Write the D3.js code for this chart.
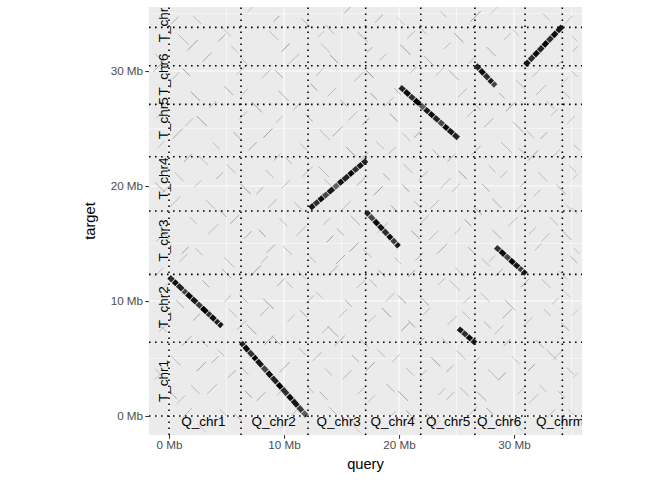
<!DOCTYPE html>
<html>
<head>
<meta charset="utf-8">
<script src="https://cdn.jsdelivr.net/npm/d3@7"></script>
<style>
  body { margin: 0; background: #fff; }
  text { font-family: "Liberation Sans", Arial, sans-serif; }
</style>
</head>
<body>
<div id="chart"></div>
<script>
// chromosome borders (Mb, cumulative) and label positions
const qBounds = [0, 6.26, 12.09, 17.1, 21.89, 26.6, 30.96, 34.2];
const tBounds = [0, 6.41, 12.32, 17.83, 22.55, 27.1, 30.46, 33.8];
const qChroms = ["Q_chr1", "Q_chr2", "Q_chr3", "Q_chr4", "Q_chr5", "Q_chr6", "Q_chrm"];
const tChroms = ["T_chr1", "T_chr2", "T_chr3", "T_chr4", "T_chr5", "T_chr6", "T_chrm"];
const qLabelPos = [2.99, 9.09, 14.76, 19.45, 24.26, 28.7, 34.0];
const tLabelPos = [3.04, 9.45, 15.26, 20.65, 25.9, 29.7, 34.5];
const tickVals = [0, 10, 20, 30];
const minorVals = [5, 15, 25, 35];

// strong alignments: [qStart, qEnd, tStart, tEnd, alpha]
const hits = [
  // Q_chr1 -> T_chr2
  [0.0, 0.35, 12.10, 11.77, 0.8], [0.4, 0.7, 11.73, 11.45, 0.95], [0.75, 1.2, 11.40, 10.98, 0.85],
  [1.25, 1.5, 10.93, 10.70, 0.7], [1.55, 1.95, 10.65, 10.28, 0.95], [2.0, 2.4, 10.23, 9.86, 0.9],
  [2.45, 2.8, 9.81, 9.48, 0.75], [2.85, 3.3, 9.44, 9.01, 1], [3.35, 3.6, 8.97, 8.73, 0.8],
  [3.65, 4.0, 8.69, 8.36, 0.95], [4.05, 4.3, 8.31, 8.08, 0.85], [4.35, 4.6, 8.03, 7.80, 0.9],
  // Q_chr2 -> T_chr1
  [6.26, 6.5, 6.40, 6.13, 0.85], [6.55, 6.9, 6.07, 5.68, 0.95], [6.95, 7.3, 5.63, 5.23, 0.8],
  [7.35, 7.6, 5.18, 4.90, 1], [7.65, 8.1, 4.84, 4.34, 0.9], [8.15, 8.5, 4.28, 3.89, 0.7],
  [8.55, 8.9, 3.83, 3.44, 0.95], [8.95, 9.4, 3.38, 2.88, 0.85], [9.45, 9.8, 2.82, 2.43, 1],
  [9.85, 10.3, 2.38, 1.87, 0.8], [10.35, 10.7, 1.81, 1.42, 0.95], [10.75, 11.2, 1.37, 0.86, 0.9],
  [11.25, 11.6, 0.81, 0.41, 0.75], [11.65, 11.97, 0.36, 0.0, 0.6],
  // Q_chr3 -> T_chr4
  [12.26, 12.6, 18.06, 18.35, 0.9], [12.65, 13.0, 18.39, 18.69, 0.8], [13.05, 13.4, 18.73, 19.03, 0.95],
  [13.45, 13.8, 19.07, 19.37, 0.7], [13.85, 14.3, 19.41, 19.80, 0.9], [14.35, 14.7, 19.84, 20.14, 0.6],
  [14.75, 15.1, 20.18, 20.48, 0.95], [15.15, 15.6, 20.52, 20.91, 0.85], [15.65, 16.0, 20.95, 21.25, 1],
  [16.05, 16.4, 21.29, 21.59, 0.8], [16.45, 16.8, 21.63, 21.93, 0.9], [16.85, 17.19, 21.97, 22.26, 0.85],
  // Q_chr4 -> T_chr3
  [17.13, 17.4, 17.77, 17.48, 0.85], [17.45, 17.8, 17.43, 17.06, 0.7], [17.85, 18.2, 17.00, 16.63, 0.95],
  [18.25, 18.6, 16.58, 16.21, 0.9], [18.65, 19.0, 16.15, 15.78, 0.8], [19.05, 19.35, 15.73, 15.41, 0.95],
  [19.4, 19.7, 15.36, 15.04, 0.75], [19.75, 20.0, 14.98, 14.72, 0.9],
  // Q_chr4/5 -> T_chr5
  [20.09, 20.45, 28.63, 28.31, 0.85], [20.5, 20.9, 28.27, 27.91, 0.95], [20.95, 21.3, 27.87, 27.56, 0.8],
  [21.35, 21.8, 27.52, 27.12, 1], [21.85, 22.2, 27.07, 26.76, 0.6], [22.25, 22.6, 26.72, 26.41, 0.9],
  [22.65, 23.0, 26.37, 26.06, 0.95], [23.05, 23.45, 26.01, 25.66, 0.85], [23.5, 23.85, 25.62, 25.31, 0.7],
  [23.9, 24.25, 25.26, 24.95, 0.95], [24.3, 24.7, 24.91, 24.55, 0.9], [24.75, 25.16, 24.51, 24.15, 0.85],
  // Q_chr5 -> T_chr1
  [25.16, 25.5, 7.63, 7.33, 0.9], [25.55, 25.9, 7.29, 6.99, 0.8], [25.95, 26.3, 6.95, 6.64, 0.95],
  [26.35, 26.67, 6.60, 6.32, 0.85],
  // Q_chr6 -> T_chr6
  [26.67, 27.0, 30.52, 30.17, 0.85], [27.05, 27.4, 30.12, 29.75, 0.95], [27.45, 27.8, 29.70, 29.33, 0.8],
  [27.85, 28.1, 29.27, 29.01, 0.9], [28.15, 28.4, 28.96, 28.70, 0.7],
  // Q_chr6 -> T_chr3
  [28.4, 28.75, 14.72, 14.41, 0.8], [28.8, 29.2, 14.36, 14.00, 0.95], [29.25, 29.6, 13.96, 13.64, 0.7],
  [29.65, 30.0, 13.60, 13.28, 1], [30.05, 30.4, 13.24, 12.92, 0.9], [30.45, 30.7, 12.88, 12.66, 0.75],
  [30.75, 31.04, 12.61, 12.35, 0.9],
  // Q_chrm -> T_chrm
  [30.96, 31.3, 30.50, 30.86, 0.9], [31.35, 31.7, 30.91, 31.28, 0.8], [31.75, 32.1, 31.33, 31.70, 0.95],
  [32.15, 32.5, 31.75, 32.12, 0.85], [32.55, 32.9, 32.17, 32.54, 1], [32.95, 33.3, 32.59, 32.96, 0.8],
  [33.35, 33.7, 33.01, 33.38, 0.95], [33.75, 34.2, 33.43, 33.90, 0.9]
];

// weak background hits: [q, t, dq, dt, alpha]
const noise = [
  [2.1,34.8,.7,-.7,.2],[6.8,35.1,.6,.6,.15],[11.5,34.6,.8,-.8,.2],[15.2,35,.6,.6,.25],[19.8,34.7,.7,-.7,.15],[23.6,35.2,.5,-.5,.2],[27.9,34.9,.7,.7,.15],[32.5,35,.6,-.6,.2],
  [0.2,34.1,.6,.6,.25],[4.5,33.9,.9,-.9,.2],[9.1,34.3,.5,.5,.3],[13.6,34,.8,-.8,.2],[17.9,34.2,.7,.7,.25],[21.8,33.8,.6,-.6,.2],[26.2,34.3,.9,.9,.3],[29.9,33.6,.5,-.5,.2],[34.4,34.1,.7,.7,.2],
  [0.8,33.2,.9,-.9,.2],[4.3,32.6,.6,.6,.3],[8.7,33.5,.8,-.8,.2],[12.9,32.9,.6,.6,.15],[16.4,33.4,.9,-.9,.25],[20.7,32.8,.7,.7,.2],[24.8,33.3,.8,-.8,.3],[29.1,32.7,.6,.6,.2],[35,33.1,.5,-.5,.15],
  [1.6,31.8,.9,.9,.3],[5.4,32.2,.6,-.6,.2],[9.8,31.7,.7,.7,.35],[13.2,32.4,.8,-.8,.2],[17.2,31.6,.5,.5,.25],[20.1,32.3,.9,-.9,.3],[23.9,31.9,.6,.6,.2],[27.6,32.1,.8,-.8,.25],[35.1,31.7,.5,.5,.2],
  [-1.2,31.5,.7,-.7,.2],[2.9,30.8,.8,.8,.25],[6.2,31.2,.6,-.6,.2],[10.4,30.6,.9,.9,.2],[14,31.4,.7,-.7,.3],[18.3,30.9,.6,.6,.2],[22.2,31.3,.8,-.8,.25],[26.1,30.7,.6,.6,.2],[33.6,30.3,.7,.7,.15],
  [-1.4,29.9,.8,.8,.25],[1.2,30.2,.6,-.6,.3],[5.9,29.7,.9,.9,.2],[9.2,30.1,.7,-.7,.25],[12.8,29.6,.6,.6,.2],[17,30.2,.8,-.8,.35],[20.9,29.8,.6,.6,.2],[24.3,30.1,.9,-.9,.25],[31.6,29.5,.7,.7,.2],[35,30,.5,-.5,.2],
  [0.3,29.3,.6,.6,.2],[4.8,28.7,.8,-.8,.25],[8.1,29.4,.7,.7,.2],[12.3,28.9,.6,-.6,.3],[16.1,29.1,.8,.8,.2],[19.6,28.5,.6,-.6,.25],[23.2,29.6,.7,.7,.2],[30.2,29.2,.8,-.8,.2],[34.1,28.8,.6,.6,.15],
  [1.9,28.2,.8,-.8,.3],[6.3,27.9,.6,.6,.2],[9.5,28.3,.9,-.9,.25],[13.8,27.8,.7,.7,.2],[17.5,28.1,.6,-.6,.3],[25.1,27.7,.8,.8,.2],[28.7,28.1,.5,-.5,.25],[31.9,27.9,.9,.9,.2],[34.3,28.2,.6,-.6,.2],
  [-0.8,27.4,.8,-.8,.2],[3.5,26.8,.6,.6,.2],[7.2,27.3,.9,-.9,.3],[10.8,26.6,.7,.7,.2],[14.9,27.5,.6,-.6,.25],[18.7,26.9,.8,.8,.2],[26.5,27.2,.6,-.6,.2],[29.3,26.5,.8,.8,.3],[32.8,27.4,.7,-.7,.2],
  [-1.1,25.9,.6,.6,.2],[2.4,26.1,.9,-.9,.3],[6.1,25.8,.7,.7,.2],[11.9,26.2,.6,-.6,.25],[15.6,25.7,.8,.8,.2],[19.2,26.3,.7,-.7,.3],[25.9,26,.6,.6,.2],[29.9,25.6,.9,-.9,.25],[33.2,26.1,.6,.6,.2],
  [1.4,25.2,.7,.7,.2],[5.6,24.7,.8,-.8,.25],[9.3,25.5,.6,.6,.2],[13.1,24.9,.9,-.9,.2],[16.8,25.3,.6,.6,.3],[20.3,24.6,.7,-.7,.2],[27.4,25.1,.8,.8,.25],[31.1,24.8,.6,-.6,.2],[34.6,25.4,.7,.7,.15],
  [0.3,24.1,.9,.9,.25],[3.8,23.8,.6,-.6,.2],[8.2,24.2,.8,.8,.3],[11.4,23.7,.6,-.6,.2],[14.2,24.3,.9,.9,.25],[18,23.9,.7,-.7,.2],[21.3,24.2,.6,.6,.3],[28.9,23.8,.9,-.9,.2],[32.3,24.1,.6,.6,.25],[35.2,23.6,.5,-.5,.2],
  [-1,23.3,.6,.6,.2],[2.6,22.6,.8,-.8,.2],[6.9,23.1,.7,.7,.25],[10.1,22.5,.6,-.6,.2],[15.4,23.4,.8,-.8,.3],[19.1,22.8,.6,.6,.2],[22.9,23.2,.7,-.7,.2],[26.3,22.7,.8,.8,.25],[30.4,23.3,.6,-.6,.2],[33.3,22.5,.7,.7,.2],
  [1.3,22.1,.7,.7,.3],[5,21.9,.8,-.8,.2],[9.1,22.2,.6,.6,.25],[13,21.7,.9,-.9,.2],[16.7,22.3,.6,.6,.3],[20.4,21.9,.8,-.8,.2],[24.2,22.1,.7,.7,.25],[27.8,21.8,.6,-.6,.2],[31.2,22.2,.9,.9,.3],[34.8,21.8,.6,-.6,.2],
  [0.5,21.2,.8,-.8,.2],[4.1,20.6,.6,.6,.25],[8.4,21.4,.7,-.7,.2],[11.6,20.8,.9,.9,.2],[18.6,21.1,.6,-.6,.25],[21.7,20.5,.8,.8,.2],[25.2,21.3,.7,-.7,.3],[28.8,20.7,.6,.6,.2],[32.1,21.2,.8,-.8,.2],[35.1,20.6,.5,.5,.15],
  [-1.2,20.3,.8,-.8,.25],[2.2,19.9,.6,.6,.2],[6.2,20.2,.9,-.9,.3],[9.8,19.8,.7,.7,.2],[13.5,20.6,.6,-.6,.2],[16.3,20,.8,.8,.25],[20.3,20.1,.6,-.6,.3],[23.6,19.8,.9,.9,.2],[27.2,20.2,.7,-.7,.25],[30.5,19.9,.6,.6,.2],[33.7,20.1,.8,-.8,.25],
  [-0.6,19.4,.7,.7,.2],[3.2,18.8,.8,-.8,.2],[7.6,19.3,.6,.6,.25],[10.9,18.6,.7,-.7,.2],[17.8,19.2,.8,.8,.3],[21.3,18.7,.6,-.6,.2],[24.6,19.5,.7,.7,.2],[28.1,18.9,.8,-.8,.25],[31.7,19.1,.6,.6,.2],[34.4,18.5,.7,-.7,.15],
  [0.1,18.2,.9,.9,.2],[4.4,17.9,.6,-.6,.3],[8.6,18.1,.8,.8,.2],[12,18.4,.6,-.6,.25],[14.9,17.8,.9,.9,.2],[19.3,18.3,.6,-.6,.3],[22.7,18,.8,.8,.2],[26.5,18.2,.7,-.7,.25],[30.1,17.8,.6,.6,.2],[35,18.1,.5,-.5,.2],
  [1.8,17.3,.6,-.6,.2],[5.3,16.7,.8,.8,.25],[9.6,17.2,.7,-.7,.2],[13.4,16.6,.6,.6,.2],[15.8,17.4,.8,-.8,.25],[21.9,16.8,.7,.7,.2],[25.7,17.1,.6,-.6,.3],[29.5,16.5,.8,.8,.2],[33.1,17.3,.7,-.7,.2],
  [-0.7,16.1,.7,-.7,.25],[3.4,15.8,.9,.9,.2],[7.8,16.2,.6,-.6,.3],[11.1,15.7,.8,.8,.2],[14.6,16.3,.6,-.6,.25],[18.1,15.9,.9,.9,.2],[21.1,16.1,.7,-.7,.3],[24.8,15.8,.6,.6,.2],[28.1,16.2,.8,-.8,.25],[31.3,15.8,.6,.6,.2],[34.2,16.1,.8,-.8,.25],
  [-1.1,15.2,.8,.8,.2],[2.3,14.6,.6,-.6,.2],[6.5,15.4,.7,.7,.25],[9.9,14.8,.8,-.8,.2],[13.7,15.1,.6,.6,.3],[16.9,14.5,.7,-.7,.2],[22.6,15.3,.8,.8,.2],[26,14.7,.6,-.6,.25],[32.4,15.2,.7,.7,.2],[35.2,14.6,.5,-.5,.15],
  [1.1,14.1,.6,.6,.3],[4.8,13.8,.9,-.9,.2],[8.5,14.2,.7,.7,.25],[12.2,13.9,.6,-.6,.2],[15.7,14.3,.8,.8,.3],[19.6,13.8,.6,-.6,.2],[23.3,14.1,.9,.9,.25],[27.2,13.7,.7,-.7,.2],[31.8,14.4,.6,.6,.2],[34.9,13.9,.6,-.6,.25],
  [0.9,13.4,.7,.7,.2],[4.6,12.8,.8,-.8,.25],[8,13.3,.6,.6,.2],[11.2,12.6,.7,-.7,.2],[14.5,13.2,.8,.8,.25],[18.2,12.7,.6,-.6,.3],[21.4,13.5,.7,.7,.2],[24.9,12.9,.8,-.8,.2],[27.8,13.4,.6,.6,.2],[33.9,12.6,.7,-.7,.2],
  [-1.3,12.1,.8,.8,.2],[2.9,11.8,.6,-.6,.25],[7.1,12.2,.9,.9,.3],[10.2,11.7,.6,-.6,.2],[13.9,12.3,.8,.8,.25],[17.4,11.9,.7,-.7,.2],[20.8,12.1,.6,.6,.3],[24.4,11.8,.9,-.9,.2],[28.4,12.2,.6,.6,.25],[32.4,11.9,.8,-.8,.2],
  [-0.4,11.2,.6,.6,.15],[6.1,10.6,.8,-.8,.2],[9.4,11.3,.7,.7,.25],[12.8,10.8,.6,-.6,.2],[16.3,11.1,.8,.8,.2],[19.9,10.5,.7,-.7,.3],[23.4,11.4,.6,.6,.2],[27.1,10.7,.8,-.8,.2],[30.6,11.2,.7,.7,.25],[34.3,10.9,.6,-.6,.15],
  [0.6,10.1,.7,-.7,.25],[4.8,9.9,.6,.6,.2],[8.2,10.2,.9,-.9,.3],[11.9,9.8,.7,.7,.2],[15.3,10.1,.6,-.6,.25],[18.8,9.9,.8,.8,.2],[21.9,10.3,.7,-.7,.3],[25.6,9.8,.6,.6,.2],[29.2,10.1,.9,-.9,.25],[33.3,9.7,.6,.6,.2],
  [5.2,9.3,.7,-.7,.2],[7.9,8.7,.8,.8,.2],[11.4,9.2,.6,-.6,.25],[14.8,8.6,.7,.7,.2],[18.5,9.4,.8,-.8,.3],[22.1,8.8,.6,.6,.2],[25.5,9.1,.7,-.7,.2],[29,8.5,.8,.8,.25],[32.6,9.3,.6,-.6,.2],[35,8.7,.6,.6,.15],
  [-1,8.1,.8,-.8,.2],[2.1,8.3,.6,.6,.25],[6.8,7.9,.8,-.8,.3],[10.3,8.2,.6,.6,.2],[13.8,7.8,.9,-.9,.25],[17.3,8.1,.7,.7,.2],[20.8,8.3,.6,-.6,.3],[24.2,7.9,.8,.8,.2],[27.4,8.2,.6,-.6,.25],[30.8,7.8,.8,.8,.2],[34.1,8.1,.7,-.7,.25],
  [-0.9,7.3,.7,.7,.2],[2.8,6.6,.6,-.6,.2],[5.9,7.5,.8,.8,.2],[9,6.9,.7,-.7,.25],[13.3,7.2,.6,.6,.2],[16.6,6.7,.8,-.8,.2],[20.2,7.4,.7,.7,.3],[23.7,6.8,.6,-.6,.2],[28.3,7.1,.8,.8,.2],[31.9,6.6,.7,-.7,.25],
  [1.1,6.1,.9,.9,.25],[4.2,5.8,.6,-.6,.2],[8.3,6.2,.8,.8,.3],[11.3,5.9,.6,-.6,.2],[14.4,6.1,.9,.9,.25],[18.1,5.8,.7,-.7,.2],[21.6,6.2,.6,.6,.3],[25,5.7,.8,-.8,.2],[29.1,6.1,.6,.6,.25],[32.8,5.8,.9,-.9,.2],
  [0.2,5.2,.8,-.8,.2],[3.7,4.6,.6,.6,.25],[7.3,5.4,.7,-.7,.2],[12.5,4.8,.8,.8,.2],[15.9,5.3,.6,-.6,.25],[19.4,4.7,.7,.7,.2],[22.8,5.1,.8,-.8,.3],[26.4,4.5,.6,.6,.2],[29.8,5.2,.7,-.7,.2],[33.4,4.9,.8,.8,.2],
  [-1.2,4.1,.7,-.7,.2],[2.4,3.9,.8,.8,.3],[6.3,4.2,.6,-.6,.2],[9.6,3.8,.9,.9,.25],[13.6,4.1,.6,-.6,.2],[17.1,3.9,.8,.8,.3],[20.6,4.2,.7,-.7,.2],[24.1,3.8,.6,.6,.25],[27.7,4.1,.9,-.9,.2],[31.2,3.9,.6,.6,.3],[34.6,4.2,.6,-.6,.2],
  [-1.3,3.1,.6,.6,.15],[1.9,2.7,.8,-.8,.2],[5.1,3.3,.7,.7,.25],[12,2.6,.6,-.6,.2],[15.1,3.2,.8,.8,.2],[18.9,2.8,.7,-.7,.25],[21.8,3.4,.6,.6,.2],[25.3,2.5,.8,-.8,.2],[28.6,3.1,.7,.7,.3],[32.2,2.7,.6,-.6,.2],[35.1,3.3,.5,.5,.15],
  [0.1,2.1,.6,-.6,.25],[3.3,1.9,.9,.9,.2],[6.6,2.2,.6,-.6,.3],[9.4,1.8,.8,.8,.2],[13.1,2.1,.7,-.7,.25],[16.4,1.9,.6,.6,.2],[19.9,2.2,.9,-.9,.3],[23.4,1.8,.6,.6,.2],[26.8,2.1,.8,-.8,.25],[30.3,1.9,.7,.7,.2],[33.8,2.2,.6,-.6,.2],
  [0.7,1.1,.7,.7,.2],[4.4,0.6,.6,-.6,.2],[7.6,1.3,.8,.8,.25],[13.9,0.8,.7,-.7,.2],[17.3,1.2,.6,.6,.2],[20.6,0.5,.8,-.8,.25],[24.1,1.4,.7,.7,.2],[27.6,0.7,.6,-.6,.3],[31.3,1.1,.8,.8,.2],[34.7,0.6,.6,-.6,.15],
  [1.2,-0.1,.8,.8,.2],[5.7,0.2,.6,-.6,.25],[10.6,0,.7,.7,.2],[15.4,0.1,.8,-.8,.25],[19.1,-0.2,.6,.6,.2],[22.4,0.2,.7,-.7,.3],[26,0,.8,.8,.2],[29.4,0.1,.6,-.6,.25],[32.9,-0.1,.7,.7,.2],
  [2.5,-0.7,.7,-.7,.15],[9.7,-1.1,.6,.6,.15],[16,-0.8,.7,-.7,.15],[23,-1,.6,.6,.15],[30,-0.6,.7,-.7,.15]
];

const width = 672,
  height = 480,
  margin = { top: 7, right: 90, bottom: 45, left: 149 };

const x = d3.scaleLinear().domain([-1.74, 35.91]).range([margin.left, width - margin.right]);
const y = d3.scaleLinear().domain([-1.65, 35.57]).range([height - margin.bottom, margin.top]);

const svg = d3.select("#chart")
  .append("svg")
  .attr("width", width)
  .attr("height", height);

svg.append("defs").append("clipPath").attr("id", "panel-clip")
  .append("rect")
  .attr("x", x.range()[0]).attr("y", y.range()[1])
  .attr("width", x.range()[1] - x.range()[0])
  .attr("height", y.range()[0] - y.range()[1]);

// panel background
svg.append("rect")
  .attr("x", x.range()[0]).attr("y", y.range()[1])
  .attr("width", x.range()[1] - x.range()[0])
  .attr("height", y.range()[0] - y.range()[1])
  .attr("fill", "#EBEBEB");

const panel = svg.append("g").attr("clip-path", "url(#panel-clip)");

// grid
const grid = panel.append("g").attr("stroke", "#fff");
grid.selectAll(".vminor").data(minorVals).join("line")
  .attr("x1", d => x(d)).attr("x2", d => x(d))
  .attr("y1", y.range()[0]).attr("y2", y.range()[1])
  .attr("stroke-width", 0.53);
grid.selectAll(".hminor").data(minorVals).join("line")
  .attr("y1", d => y(d)).attr("y2", d => y(d))
  .attr("x1", x.range()[0]).attr("x2", x.range()[1])
  .attr("stroke-width", 0.53);
grid.selectAll(".vmajor").data(tickVals).join("line")
  .attr("x1", d => x(d)).attr("x2", d => x(d))
  .attr("y1", y.range()[0]).attr("y2", y.range()[1])
  .attr("stroke-width", 1.07);
grid.selectAll(".hmajor").data(tickVals).join("line")
  .attr("y1", d => y(d)).attr("y2", d => y(d))
  .attr("x1", x.range()[0]).attr("x2", x.range()[1])
  .attr("stroke-width", 1.07);

// weak hits
panel.append("g").selectAll("line").data(noise).join("line")
  .attr("x1", d => x(d[0])).attr("y1", d => y(d[1]))
  .attr("x2", d => x(d[0] + d[2])).attr("y2", d => y(d[1] + d[3]))
  .attr("stroke", "#000")
  .attr("stroke-opacity", d => d[4] * 1.2)
  .attr("stroke-width", 0.9);

// chromosome labels
panel.append("g").selectAll("text").data(qChroms).join("text")
  .attr("x", (d, i) => x(qLabelPos[i]))
  .attr("y", y(-0.5))
  .attr("text-anchor", "middle")
  .attr("dominant-baseline", "central")
  .attr("font-size", "13.5px")
  .text(d => d);

panel.append("g").selectAll("text").data(tChroms).join("text")
  .attr("transform", (d, i) => `translate(${x(-0.5)},${y(tLabelPos[i])}) rotate(-90)`)
  .attr("text-anchor", "middle")
  .attr("dominant-baseline", "central")
  .attr("font-size", "13.5px")
  .text(d => d);

// strong hits
panel.append("g").selectAll("line").data(hits).join("line")
  .attr("x1", d => x(d[0])).attr("y1", d => y(d[2]))
  .attr("x2", d => x(d[1])).attr("y2", d => y(d[3]))
  .attr("stroke", "#000")
  .attr("stroke-opacity", d => d[4])
  .attr("stroke-width", 5)
  .attr("stroke-linecap", "butt");

// chromosome borders
const borders = panel.append("g")
  .attr("stroke", "#000")
  .attr("stroke-width", 1.6)
  .attr("stroke-dasharray", "1.6,4.4");
borders.selectAll(".qb").data(qBounds).join("line")
  .attr("x1", d => x(d)).attr("x2", d => x(d))
  .attr("y1", y.range()[0]).attr("y2", y.range()[1]);
borders.selectAll(".tb").data(tBounds).join("line")
  .attr("y1", d => y(d)).attr("y2", d => y(d))
  .attr("x1", x.range()[0]).attr("x2", x.range()[1]);

// axes
const xAxis = d3.axisBottom(x).tickValues(tickVals).tickFormat(d => d + " Mb").tickSize(3.7).tickPadding(2.2);
const yAxis = d3.axisLeft(y).tickValues(tickVals).tickFormat(d => d + " Mb").tickSize(3.7).tickPadding(2.2);

const gx = svg.append("g")
  .attr("transform", `translate(0,${y.range()[0]})`)
  .call(xAxis);
const gy = svg.append("g")
  .attr("transform", `translate(${x.range()[0]},0)`)
  .call(yAxis);

[gx, gy].forEach(g => {
  g.select(".domain").remove();
  g.selectAll(".tick line").attr("stroke", "#333333").attr("stroke-width", 1.07);
  g.selectAll(".tick text")
    .attr("fill", "#4D4D4D")
    .attr("font-size", "11.7px")
    .attr("font-family", "Liberation Sans, Arial, sans-serif");
});

svg.append("text")
  .attr("x", (x.range()[0] + x.range()[1]) / 2)
  .attr("y", 469)
  .attr("text-anchor", "middle")
  .attr("font-size", "14.67px")
  .text("query");

svg.append("text")
  .attr("transform", `translate(95,${(y.range()[0] + y.range()[1]) / 2}) rotate(-90)`)
  .attr("text-anchor", "middle")
  .attr("font-size", "14.67px")
  .text("target");
</script>
</body>
</html>
